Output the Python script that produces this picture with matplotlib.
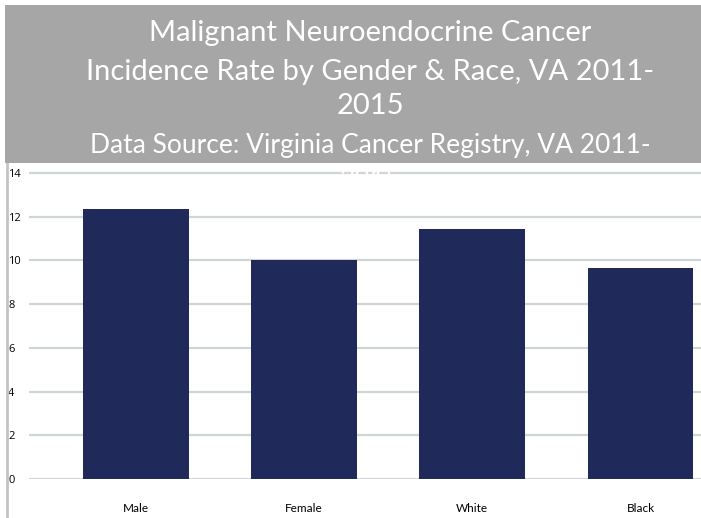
import matplotlib.pyplot as plt
from matplotlib.patches import Rectangle
from matplotlib.lines import Line2D

# Datos
categorias = ['Male', 'Female', 'White', 'Black']
tasas = [12.35, 10.02, 11.44, 9.65]
ticks_y = [0, 2, 4, 6, 8, 10, 12, 14]

titulo = ['Malignant Neuroendocrine Cancer',
          'Incidence Rate by Gender & Race, VA 2011-',
          '2015']
fuente = ['Data Source: Virginia Cancer Registry, VA 2011-',
          '2015']

W, H = 701, 518
fig = plt.figure(figsize=(W / 100, H / 100), dpi=100)

# Caja gris del título
fig.patches.append(Rectangle((5 / W, 1 - 163 / H), 1, 158 / H, transform=fig.transFigure,
                             facecolor='#a6a6a6', edgecolor='none', zorder=1))
fig.lines.append(Line2D([7 / W, 7 / W], [0, 1 - 163 / H], transform=fig.transFigure,
                        color='#c4c4c4', linewidth=2, zorder=1))

# Área del gráfico
ax = fig.add_axes([29 / W, 1 - 479 / H, (W - 29) / W, (479 - 163) / H])
ax.set_facecolor('white')

# Título en blanco por encima de todo (la última línea solo se ve sobre la rejilla)
for texto, y in zip(titulo, [33, 72, 106]):
    fig.text(0.528, 1 - y / H, texto, ha='center', va='center', color='white',
             fontsize=21, family='Lato', zorder=10)
for texto, y in zip(fuente, [145, 180]):
    fig.text(0.528, 1 - y / H, texto, ha='center', va='center', color='white',
             fontsize=19, family='Lato', zorder=10)

x = range(len(categorias))
ax.bar(x, tasas, width=0.63, color='#1f2a5a', zorder=3)

ax.set_ylim(0, 14.46)
ax.set_xlim(-0.637, 3.36)
ax.set_yticks(ticks_y)
ax.set_yticklabels([str(t) for t in ticks_y], fontsize=8, family='Open Sans', ha='left')
ax.tick_params(axis='y', length=0, pad=15)
ax.set_xticks(list(x))
ax.set_xticklabels(categorias, fontsize=8.5, family='Lato')
ax.tick_params(axis='x', length=0, pad=17)
ax.grid(axis='y', color='#d0d5d8', linewidth=1.6, zorder=0)
for lado in ax.spines.values():
    lado.set_visible(False)

fig.savefig('out.png', dpi=100)
